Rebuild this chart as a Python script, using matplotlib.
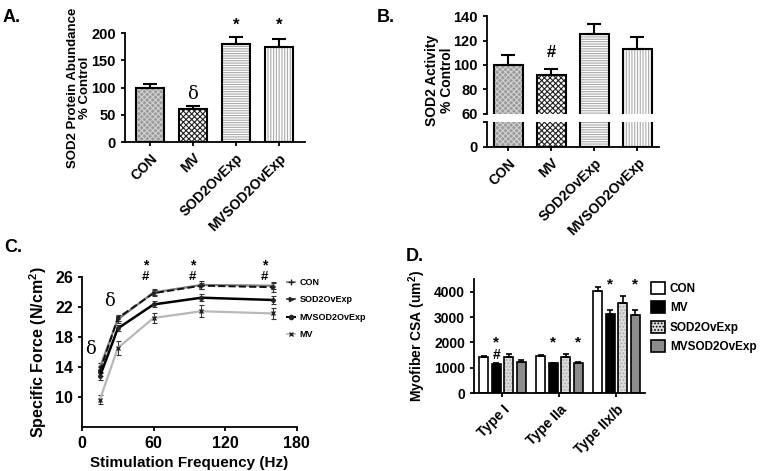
import matplotlib
matplotlib.use("Agg")
import matplotlib.pyplot as plt
from matplotlib.lines import Line2D
import numpy as np

plt.rcParams['font.family'] = ['Liberation Sans', 'DejaVu Sans']
plt.rcParams['font.weight'] = 'bold'
plt.rcParams['axes.labelweight'] = 'bold'
plt.rcParams['mathtext.fontset'] = 'custom'
plt.rcParams['mathtext.rm'] = 'Liberation Sans:bold'
plt.rcParams['mathtext.bf'] = 'Liberation Sans:bold'
plt.rcParams['mathtext.default'] = 'rm'
plt.rcParams['hatch.linewidth'] = 0.8

# ---------------- data ----------------
groups = ['CON', 'MV', 'SOD2OvExp', 'MVSOD2OvExp']

# Panel A: SOD2 protein abundance (% control)
a_mean = [100, 60, 180, 175]
a_err = [7, 6, 12, 14]

# Panel B: SOD2 activity (% control)
b_mean = [100, 92, 125, 113]
b_err = [8.5, 5, 8.5, 9.5]

# Panel C: specific force vs stimulation frequency
freq = [15, 30, 60, 100, 160]
c_con = [13.9, 20.3, 23.9, 24.9, 24.8]
c_con_err = [0.6, 0.5, 0.4, 0.5, 0.5]
c_sod = [13.4, 20.5, 23.8, 24.8, 24.6]
c_sod_err = [0.7, 0.4, 0.4, 0.4, 0.6]
c_mvsod = [12.7, 19.1, 22.3, 23.2, 22.9]
c_mvsod_err = [0.5, 0.4, 0.4, 0.5, 0.5]
c_mv = [9.6, 16.5, 20.5, 21.4, 21.1]
c_mv_err = [0.6, 0.9, 0.7, 0.8, 0.7]
c_series = ['CON', 'SOD2OvExp', 'MVSOD2OvExp', 'MV']

# Panel D: myofiber CSA
fiber_types = ['Type I', 'Type IIa', 'Type IIx/b']
d_con = [1420, 1475, 4020]
d_con_err = [40, 40, 180]
d_mv = [1155, 1180, 3135]
d_mv_err = [30, 30, 160]
d_sod = [1425, 1410, 3560]
d_sod_err = [110, 130, 280]
d_mvsod = [1245, 1175, 3095]
d_mvsod_err = [50, 50, 190]

fig = plt.figure(figsize=(7.62, 4.71), dpi=100)

SPW = 1.3

def style_axes(ax):
    for s in ['top', 'right']:
        ax.spines[s].set_visible(False)
    for s in ['left', 'bottom']:
        ax.spines[s].set_linewidth(SPW)
    ax.tick_params(width=SPW, length=3, direction='out')

# bar styles for panels A, B
bar_styles = [
    dict(facecolor='#9a9a9a', hatch='xxxxxx', hcolor='#d0d0d0'),
    dict(facecolor='white', hatch='xxxxxx', hcolor='#222222'),
    dict(facecolor='white', hatch='-------', hcolor='#aaaaaa'),
    dict(facecolor='white', hatch='||||||', hcolor='#aaaaaa'),
]

def draw_hatched_bars(ax, x, vals, width):
    for xi, v, st in zip(x, vals, bar_styles):
        ax.bar(xi, v, width, color=st['facecolor'], edgecolor=st['hcolor'],
               hatch=st['hatch'], linewidth=0, zorder=2)
        ax.bar(xi, v, width, fill=False, edgecolor='black', linewidth=1.5, zorder=3)

# ---------------- Panel A ----------------
axA = fig.add_axes([0.164, 0.6985, 0.236, 0.2314])
xA = np.arange(len(groups))
draw_hatched_bars(axA, xA, a_mean, 0.67)
axA.errorbar(xA, a_mean, yerr=[np.zeros(4), a_err], fmt='none', ecolor='black',
             elinewidth=1.5, capsize=5, capthick=1.5, zorder=4)
axA.set_xlim(-0.58, 3.6)
axA.set_ylim(0, 200)
axA.set_yticks([0, 50, 100, 150, 200])
axA.set_xticks(xA)
axA.set_xticklabels(groups, rotation=45, ha='right', rotation_mode='anchor', fontsize=10)
axA.tick_params(axis='y', labelsize=10.5)
style_axes(axA)
axA.set_ylabel('SOD2 Protein Abundance\n% Control', fontsize=9.5, linespacing=1.0)
axA.yaxis.set_label_coords(-0.19, 0.5)
axA.text(1, 88, 'δ', ha='center', va='center', fontsize=13, family='DejaVu Serif', weight='normal')
axA.text(2, 215, '*', ha='center', va='center', fontsize=12, clip_on=False)
axA.text(3, 215, '*', ha='center', va='center', fontsize=12, clip_on=False)

# ---------------- Panel B ----------------
axB = fig.add_axes([0.639, 0.758, 0.2257, 0.208])
axB2 = fig.add_axes([0.639, 0.6879, 0.2257, 0.0531])
xB = np.arange(len(groups))
for ax in (axB, axB2):
    draw_hatched_bars(ax, xB, b_mean, 0.67)
    ax.set_xlim(-0.5, 3.5)
    style_axes(ax)
axB.errorbar(xB, b_mean, yerr=[np.zeros(4), b_err], fmt='none', ecolor='black',
             elinewidth=1.5, capsize=5, capthick=1.5, zorder=4)
axB.set_ylim(60, 140)
axB.set_yticks([60, 80, 100, 120, 140])
axB.spines['bottom'].set_visible(False)
axB.set_xticks([])
axB.tick_params(axis='y', labelsize=10.5)
axB2.set_ylim(0, 20)
axB2.set_yticks([0, 20])
axB2.set_yticklabels(['0', ''])
axB2.tick_params(axis='y', labelsize=10.5)
axB2.set_xticks(xB)
axB2.set_xticklabels(groups, rotation=45, ha='right', rotation_mode='anchor', fontsize=10)
axB.text(1, 110, '#', ha='center', va='center', fontsize=12)
fig.text(0.577, 0.83, 'SOD2 Activity\n% Control', rotation=90, ha='center', va='center',
         fontsize=10, linespacing=1.1)

# ---------------- Panel C ----------------
axC = fig.add_axes([0.1076, 0.094, 0.2818, 0.3185])
c_vals = [c_con, c_sod, c_mvsod, c_mv]
c_errs = [c_con_err, c_sod_err, c_mvsod_err, c_mv_err]
c_colors = ['#808080', '#111111', '#000000', '#b8b8b8']
c_ls = ['-', '--', '-', '-']
c_lw = [1.6, 1.4, 1.8, 1.6]
c_mk = ['+', '>', 'o', 'x']
c_ms = [3.5, 2.5, 2.5, 3]
c_z = [3, 4, 5, 2]
handles = []
for vals, errs, col, ls, lw, mk, ms, lab, z in zip(c_vals, c_errs, c_colors, c_ls, c_lw,
                                                   c_mk, c_ms, c_series, c_z):
    axC.errorbar(freq, vals, yerr=errs, color=col, ls=ls, lw=lw, marker=mk, ms=ms,
                 mec='#222222', mfc='#222222', ecolor='#333333', elinewidth=0.8,
                 capsize=1.8, capthick=0.8, label=lab, zorder=z)
    handles.append(Line2D([], [], color=col, ls='-', lw=lw * 0.8, marker=mk, ms=ms + 0.5,
                          mec='#222222', mfc='#222222'))
axC.set_xlim(0, 180)
axC.set_ylim(6, 26)
axC.set_xticks([0, 60, 120, 180])
axC.set_yticks([10, 14, 18, 22, 26])
axC.tick_params(labelsize=11.5)
style_axes(axC)
axC.set_xlabel('Stimulation Frequency (Hz)', fontsize=11)
axC.set_ylabel('Specific Force (N/cm$^2$)', fontsize=11.5)
axC.text(7, 16.4, 'δ', ha='center', va='center', fontsize=13, family='DejaVu Serif', weight='normal')
axC.text(23, 22.7, 'δ', ha='center', va='center', fontsize=13, family='DejaVu Serif', weight='normal')
for fx in [53, 93, 153]:
    axC.text(fx, 27.55, '*', ha='center', va='center', fontsize=10, clip_on=False)
    axC.text(fx, 25.95, '#', ha='center', va='center', fontsize=9.5, clip_on=False)
fig.legend(handles=handles, labels=c_series, loc='upper left',
           bbox_to_anchor=(0.372, 0.418), frameon=False, fontsize=6.5,
           handlelength=0.9, handletextpad=0.5, labelspacing=0.95, borderaxespad=0)

# ---------------- Panel D ----------------
axD = fig.add_axes([0.622, 0.165, 0.2244, 0.2427])
xD = np.arange(len(fiber_types))
pitch = 0.218
bw = 0.158
d_vals = [d_con, d_mv, d_sod, d_mvsod]
d_errs = [d_con_err, d_mv_err, d_sod_err, d_mvsod_err]
d_fc = ['white', 'black', '#dcdcdc', '#8c8c8c']
d_hatch = [None, None, '.....', None]
d_labels = ['CON', 'MV', 'SOD2OvExp', 'MVSOD2OvExp']
d_handles = []
for i, (vals, errs, fc, hh, lab) in enumerate(zip(d_vals, d_errs, d_fc, d_hatch, d_labels)):
    xs = xD + (i - 1.5) * pitch
    if hh:
        axD.bar(xs, vals, bw, color=fc, edgecolor='#aaaaaa', hatch=hh, linewidth=0, zorder=2)
    else:
        axD.bar(xs, vals, bw, color=fc, linewidth=0, zorder=2)
    axD.bar(xs, vals, bw, fill=False, edgecolor='black', linewidth=1.2, zorder=3)
    axD.errorbar(xs, vals, yerr=[np.zeros(3), errs], fmt='none', ecolor='black',
                 elinewidth=1.2, capsize=2.5, capthick=1.2, zorder=4)
    d_handles.append(plt.Rectangle((0, 0), 1, 1, facecolor=fc, edgecolor='black',
                                   hatch=hh, linewidth=1.2))
axD.set_xlim(-0.5, 2.5)
axD.set_ylim(0, 4500)
axD.set_yticks([0, 1000, 2000, 3000, 4000])
axD.set_xticks(xD)
axD.set_xticklabels(fiber_types, rotation=45, ha='right', rotation_mode='anchor', fontsize=10)
axD.tick_params(axis='y', labelsize=10)
style_axes(axD)
axD.set_ylabel('Myofiber CSA (um$^2$)', fontsize=10)
axD.text(0 - 0.5 * pitch, 2000, '*', ha='center', va='center', fontsize=11)
axD.text(0 - 0.5 * pitch, 1500, '#', ha='center', va='center', fontsize=10)
for gx in [1, 2]:
    yy = 2000 if gx == 1 else 4300
    axD.text(gx - 0.5 * pitch, yy, '*', ha='center', va='center', fontsize=11)
    axD.text(gx + 1.5 * pitch, yy, '*', ha='center', va='center', fontsize=11)
fig.legend(handles=d_handles, labels=d_labels, loc='upper left',
           bbox_to_anchor=(0.848, 0.412), frameon=False, fontsize=8.5,
           handlelength=1.2, handleheight=1.2, handletextpad=0.4, labelspacing=0.55,
           borderaxespad=0)

# ---------------- panel letters ----------------
fig.text(0.003, 0.962, 'A.', fontsize=13, va='center')
fig.text(0.494, 0.962, 'B.', fontsize=13, va='center')
fig.text(0.006, 0.475, 'C.', fontsize=13, va='center')
fig.text(0.533, 0.455, 'D.', fontsize=13, va='center')

fig.savefig('out.png', dpi=100)
